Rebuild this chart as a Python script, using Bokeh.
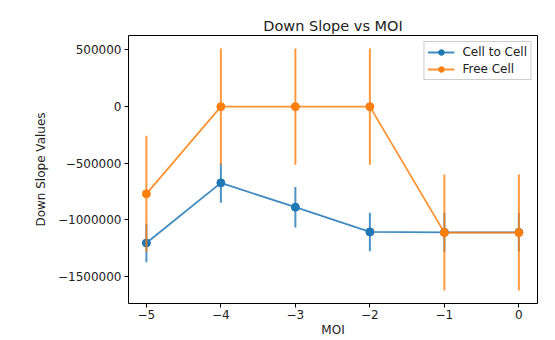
from bokeh.plotting import figure
from bokeh.models import FixedTicker, Range1d, Legend, LegendItem
from bokeh.embed import file_html
from bokeh.resources import INLINE

moi = [-5, -4, -3, -2, -1, 0]
cell_to_cell = [-1204000, -673000, -888000, -1106000, -1110000, -1110000]
cell_to_cell_err = [170000, 175000, 178000, 170000, 170000, 170000]
free_cell = [-770000, 0, 0, 0, -1112000, -1112000]
free_cell_err = [512000, 513000, 513000, 513000, 512000, 512000]
x_ticks = [-5, -4, -3, -2, -1, 0]
y_ticks = [500000, 0, -500000, -1000000, -1500000]

BLUE = "#1f77b4"
ORANGE = "#ff7f0e"
FONT = "DejaVu Sans"
TXT = "#222222"

def lab(v):
    s = str(int(v))
    return s.replace("-", "\u2212")

p = figure(width=555, height=340, output_backend="svg", toolbar_location=None,
           x_range=Range1d(-5.24, 0.25), y_range=Range1d(-1738000, 628000),
           min_border_left=128, min_border_right=18, min_border_top=35, min_border_bottom=37)

p.title.text = "Down Slope vs MOI"
p.title.align = "center"
p.title.text_font = FONT
p.title.text_font_size = "14.5px"
p.title.text_font_style = "normal"
p.title.text_color = TXT
p.title.offset = 0
p.title.standoff = 4

p.xgrid.visible = False
p.ygrid.visible = False
p.outline_line_color = "#000000"
p.outline_line_width = 1

for ax in (p.xaxis[0], p.yaxis[0]):
    ax.axis_line_color = None
    ax.major_tick_line_color = "#000000"
    ax.major_tick_out = 4
    ax.major_tick_in = 0
    ax.minor_tick_line_color = None
    ax.major_label_text_font = FONT
    ax.major_label_text_font_size = "12px"
    ax.major_label_text_color = TXT
    ax.axis_label_text_font = FONT
    ax.axis_label_text_font_size = "12px"
    ax.axis_label_text_font_style = "normal"
    ax.axis_label_text_color = TXT
    ax.major_label_standoff = 3

p.xaxis.ticker = FixedTicker(ticks=x_ticks)
p.yaxis.ticker = FixedTicker(ticks=y_ticks)
p.xaxis.major_label_overrides = {t: lab(t) for t in x_ticks}
p.yaxis.major_label_overrides = {t: lab(t) for t in y_ticks}
p.xaxis.axis_label = "MOI"
p.yaxis.axis_label = "Down Slope Values"
p.xaxis.major_label_standoff = 2
p.xaxis.axis_label_standoff = 1
p.yaxis.axis_label_standoff = 7

items = []
for ys, es, color, name in [(cell_to_cell, cell_to_cell_err, BLUE, "Cell to Cell"),
                            (free_cell, free_cell_err, ORANGE, "Free Cell")]:
    lo = [y - e for y, e in zip(ys, es)]
    hi = [y + e for y, e in zip(ys, es)]
    p.segment(x0=moi, y0=lo, x1=moi, y1=hi, line_color=color, line_width=2, line_alpha=0.8)
    ln = p.line(moi, ys, line_color=color, line_width=1.8, line_alpha=0.85)
    sc = p.scatter(moi, ys, size=8, fill_color=color, line_color=color, fill_alpha=1, line_alpha=1)
    items.append(LegendItem(label=name, renderers=[ln, sc]))

legend = Legend(items=items, location="top_right")
legend.label_text_font = FONT
legend.label_text_font_size = "12px"
legend.label_text_color = TXT
legend.border_line_color = "#cccccc"
legend.border_line_alpha = 1
legend.background_fill_alpha = 0.8
legend.glyph_width = 27
legend.glyph_height = 14
legend.spacing = 3
legend.padding = 3
legend.margin = 6
legend.label_standoff = 8
legend.label_height = 14
p.add_layout(legend)

open("out.html", "w").write(file_html(p, INLINE))
